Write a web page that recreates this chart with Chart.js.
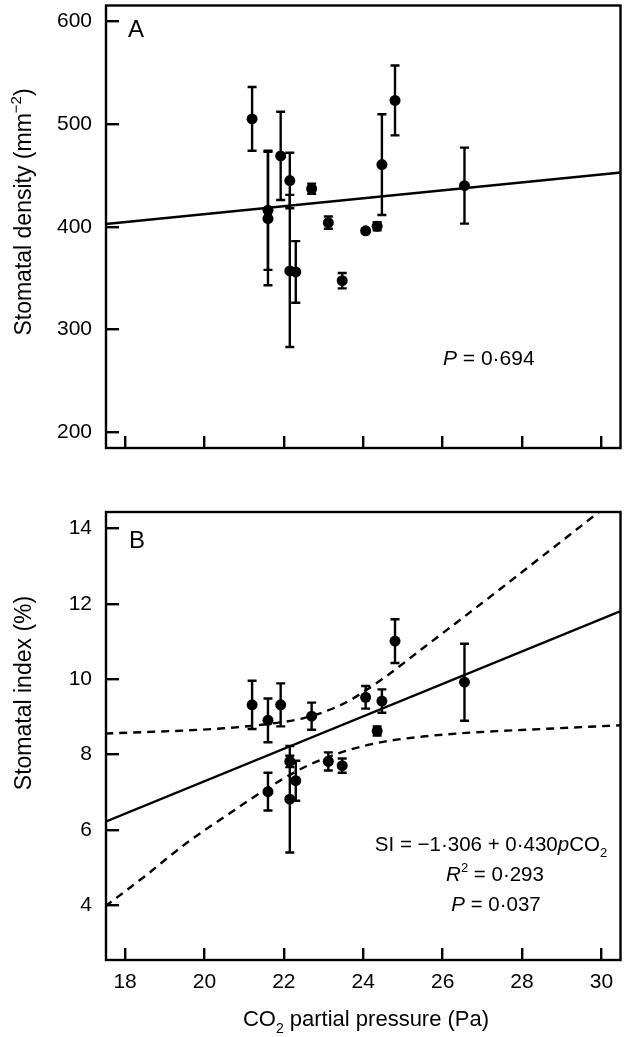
<!DOCTYPE html>
<html>
<head>
<meta charset="utf-8">
<script src="https://cdn.jsdelivr.net/npm/chart.js@4.4.0/dist/chart.umd.min.js"></script>
<style>
    html, body { margin: 0; padding: 0; background: #fff; }
    #wrap { position: relative; width: 626px; height: 1037px; }
    canvas { position: absolute; left: 0; }
    #chartA { top: 0; }
    #chartB { top: 470px; }
</style>
</head>
<body>
<div id="wrap">
    <canvas id="chartA" width="626" height="470"></canvas>
    <canvas id="chartB" width="626" height="567"></canvas>
</div>
<script>
// values
const pco2 = [21.2, 21.6, 21.6, 21.92, 22.15, 22.15, 22.3, 22.7, 23.12, 23.47, 24.06, 24.35, 24.47, 24.8, 26.55];
const density = [505, 416, 408, 469, 445, 357, 356, 437, 404, 347.5, 396, 400.5, 460.5, 523, 440];
const densityErr = [31, 58, 65, 43, 27, 74, 30, 5, 6, 7.5, 2, 4, 49, 34, 37];
const stomIndex = [9.32, 8.91, 7.02, 9.32, 7.82, 6.82, 7.31, 9.02, 7.82, 7.71, 9.52, 8.63, 9.42, 11.01, 9.92];
const stomIndexErr = [0.64, 0.58, 0.5, 0.57, 0.15, 1.41, 0.53, 0.36, 0.24, 0.19, 0.3, 0.12, 0.31, 0.58, 1.02];

const fitX = [17.5, 30.5];
const fitDensity = [402.6, 452.9];
const fitIndex = [6.22, 11.81];

const bandX = [17.5, 18.5, 19.5, 20.5, 21.5, 22.5, 23.5, 24.5, 25.5, 26.5, 27.5, 28.5, 29.5, 30.5];
const bandUpper = [8.56, 8.6, 8.64, 8.7, 8.8, 8.97, 9.35, 10.02, 10.82, 11.62, 12.43, 13.25, 14.07, 14.9];
const bandLower = [3.98, 4.78, 5.62, 6.35, 7.05, 7.66, 8.08, 8.34, 8.48, 8.57, 8.63, 8.68, 8.73, 8.78];

const xTicks = [18, 20, 22, 24, 26, 28, 30];
const yTicksA = [200, 300, 400, 500, 600];
const yTicksB = [4, 6, 8, 10, 12, 14];

const FONT = '"Liberation Sans", Arial, sans-serif';

function pts(xs, ys) {
    return xs.map((x, i) => ({ x: x, y: ys[i] }));
}

// mixed text: [text, style] with style '', 'i', 'sup', 'sub'
function drawRich(ctx, parts, x, y, align, size) {
    const fontFor = s => (s === 'i' ? 'italic ' : '') +
        ((s === 'sup' || s === 'sub') ? Math.round(size * 0.65) : size) + 'px ' + FONT;
    let w = 0;
    parts.forEach(([t, s]) => { ctx.font = fontFor(s); w += ctx.measureText(t).width; });
    let cx = align === 'center' ? x - w / 2 : (align === 'right' ? x - w : x);
    ctx.textAlign = 'left';
    ctx.textBaseline = 'alphabetic';
    ctx.fillStyle = '#000';
    parts.forEach(([t, s]) => {
        ctx.font = fontFor(s);
        const dy = s === 'sup' ? -size * 0.42 : (s === 'sub' ? size * 0.3 : 0);
        ctx.fillText(t, cx, y + dy);
        cx += ctx.measureText(t).width;
    });
}

const errorBars = {
    id: 'errorBars',
    afterDatasetsDraw(chart, args, opts) {
        const { ctx, scales: { x, y } } = chart;
        ctx.save();
        ctx.strokeStyle = '#000';
        ctx.lineWidth = 2.4;
        opts.xs.forEach((p, i) => {
            const px = x.getPixelForValue(p);
            const top = y.getPixelForValue(opts.values[i] + opts.errors[i]);
            const bot = y.getPixelForValue(opts.values[i] - opts.errors[i]);
            ctx.beginPath();
            ctx.moveTo(px, top); ctx.lineTo(px, bot);
            ctx.moveTo(px - 4.5, top); ctx.lineTo(px + 4.5, top);
            ctx.moveTo(px - 4.5, bot); ctx.lineTo(px + 4.5, bot);
            ctx.stroke();
        });
        ctx.restore();
    }
};

const frame = {
    id: 'frame',
    afterDraw(chart) {
        const { ctx, chartArea: a } = chart;
        ctx.save();
        ctx.strokeStyle = '#000';
        ctx.lineWidth = 2.4;
        ctx.strokeRect(a.left, a.top, a.right - a.left, a.bottom - a.top);
        ctx.restore();
    }
};

function axes(yMin, yMax, yTicks, bottomH, showX) {
    const tickFont = { family: FONT, size: 21 };
    return {
        x: {
            type: 'linear', min: 17.52, max: 30.48,
            afterBuildTicks: s => { s.ticks = xTicks.map(v => ({ value: v })); },
            afterFit: s => { s.height = bottomH; s.paddingLeft = 0; s.paddingRight = 0; },
            grid: { drawOnChartArea: false, drawTicks: true, tickLength: -12, color: '#000', lineWidth: 2.4 },
            border: { display: false },
            ticks: { display: showX, autoSkip: false, maxRotation: 0, padding: 22, color: '#000', font: tickFont }
        },
        y: {
            type: 'linear', min: yMin, max: yMax,
            afterBuildTicks: s => { s.ticks = yTicks.map(v => ({ value: v })); },
            afterFit: s => { s.width = 106; s.paddingTop = 0; s.paddingBottom = 0; },
            grid: { drawOnChartArea: false, drawTicks: true, tickLength: -13, color: '#000', lineWidth: 2.4 },
            border: { display: false },
            ticks: { autoSkip: false, padding: 27, color: '#000', font: tickFont }
        }
    };
}

const pointStyle = {
    type: 'scatter', showLine: false, pointRadius: 5.5, pointHoverRadius: 5.5,
    backgroundColor: '#000', borderColor: '#000', borderWidth: 0
};
const lineStyle = {
    type: 'scatter', showLine: true, pointRadius: 0, borderColor: '#000', borderWidth: 2.4, fill: false
};

const baseOptions = {
    responsive: false,
    animation: false,
    events: [],
    plugins: { legend: { display: false }, tooltip: { enabled: false } }
};

new Chart(document.getElementById('chartA').getContext('2d'), {
    type: 'scatter',
    data: {
        datasets: [
            Object.assign({ data: pts(fitX, fitDensity) }, lineStyle),
            Object.assign({ data: pts(pco2, density) }, pointStyle)
        ]
    },
    options: Object.assign({}, baseOptions, {
        layout: { padding: { top: 1, right: 5, left: 0, bottom: 0 } },
        scales: axes(184.6, 615.4, yTicksA, 22, false),
        plugins: Object.assign({}, baseOptions.plugins, {
            errorBars: { xs: pco2, values: density, errors: densityErr }
        })
    }),
    plugins: [errorBars, frame, {
        id: 'labelsA',
        afterDraw(chart) {
            const ctx = chart.ctx;
            ctx.save();
            drawRich(ctx, [['A', '']], 128, 37, 'left', 24);
            drawRich(ctx, [['P', 'i'], [' = 0·694', '']], 443, 365, 'left', 21);
            ctx.translate(31, 212);
            ctx.rotate(-Math.PI / 2);
            drawRich(ctx, [['Stomatal density (mm', ''], ['\u22122', 'sup'], [')', '']], 0, 0, 'center', 23);
            ctx.restore();
        }
    }]
});

new Chart(document.getElementById('chartB').getContext('2d'), {
    type: 'scatter',
    data: {
        datasets: [
            Object.assign({ data: pts(fitX, fitIndex) }, lineStyle),
            Object.assign({ data: pts(bandX, bandUpper), borderDash: [8, 6], cubicInterpolationMode: 'monotone' }, lineStyle),
            Object.assign({ data: pts(bandX, bandLower), borderDash: [8, 6], cubicInterpolationMode: 'monotone' }, lineStyle),
            Object.assign({ data: pts(pco2, stomIndex) }, pointStyle)
        ]
    },
    options: Object.assign({}, baseOptions, {
        layout: { padding: { top: 42, right: 5, left: 0, bottom: 0 } },
        scales: axes(2.56, 14.43, yTicksB, 77, true),
        plugins: Object.assign({}, baseOptions.plugins, {
            errorBars: { xs: pco2, values: stomIndex, errors: stomIndexErr }
        })
    }),
    plugins: [errorBars, frame, {
        id: 'labelsB',
        afterDraw(chart) {
            const ctx = chart.ctx;
            ctx.save();
            drawRich(ctx, [['B', '']], 129, 78, 'left', 24);
            drawRich(ctx, [['SI = \u22121·306 + 0·430', ''], ['p', 'i'], ['CO', ''], ['2', 'sub']], 491, 381, 'center', 20.5);
            drawRich(ctx, [['R', 'i'], ['2', 'sup'], [' = 0·293', '']], 495, 411, 'center', 20.5);
            drawRich(ctx, [['P', 'i'], [' = 0·037', '']], 496, 441, 'center', 20.5);
            drawRich(ctx, [['CO', ''], ['2', 'sub'], [' partial pressure (Pa)', '']], 366, 556, 'center', 22);
            ctx.translate(31, 223);
            ctx.rotate(-Math.PI / 2);
            drawRich(ctx, [['Stomatal index (%)', '']], 0, 0, 'center', 23);
            ctx.restore();
        }
    }]
});
</script>
</body>
</html>
